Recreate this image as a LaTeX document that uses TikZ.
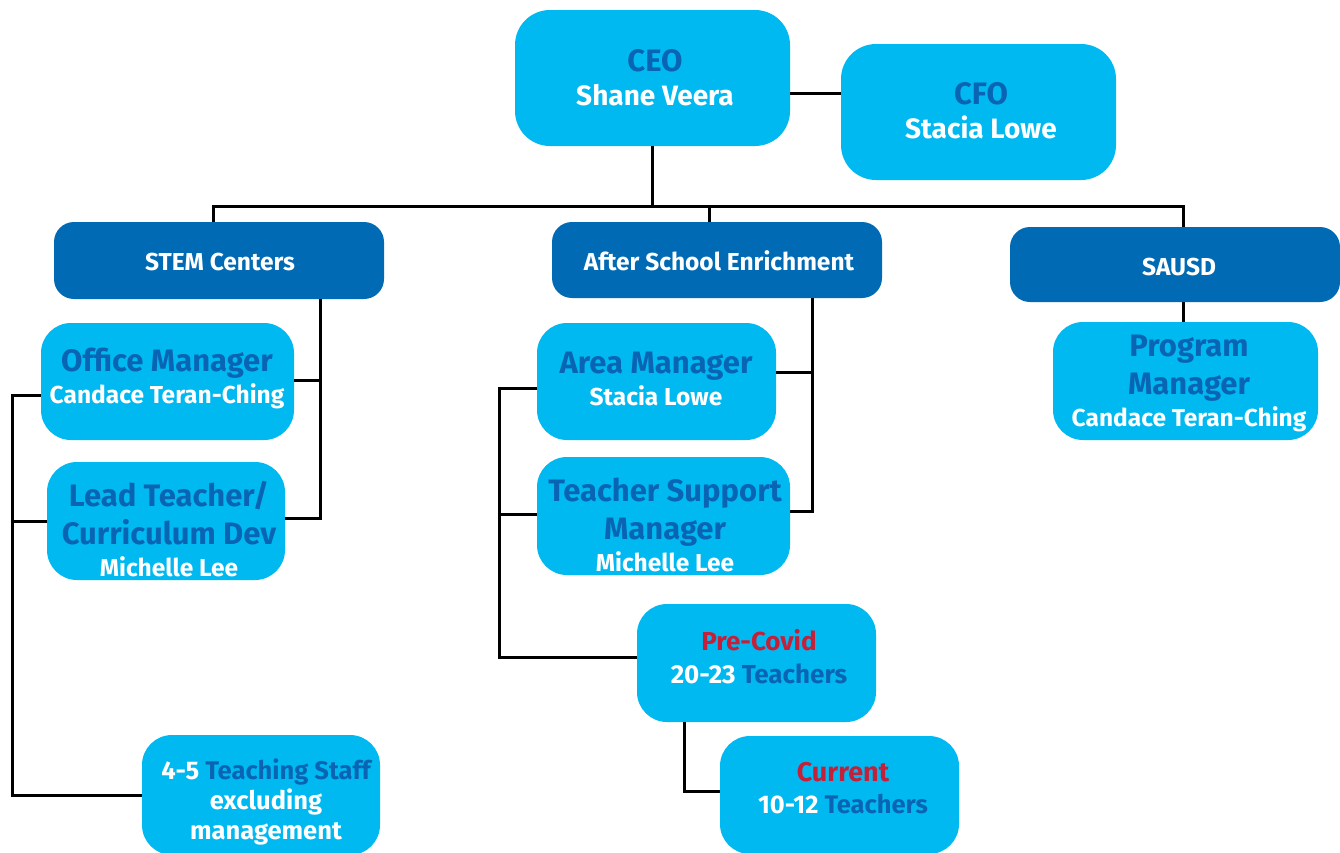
\documentclass[tikz,border=0pt]{standalone}
\usepackage{fontspec}
\setmainfont{Fira Sans}
\definecolor{cyanbox}{HTML}{00B9F1}
\definecolor{navy}{HTML}{006AB5}
\definecolor{titleblue}{HTML}{0A64B4}
\definecolor{covidred}{HTML}{C4203A}
\newcommand\ttl[1]{{\color{titleblue}\fontsize{31}{38}\selectfont #1}}
\newcommand\nme[1]{{\color{white}\fontsize{24.5}{30}\selectfont #1}}
\tikzset{
  lbox/.style={rectangle, rounded corners=30pt, fill=cyanbox, draw=none, inner sep=0pt},
  dbox/.style={rectangle, rounded corners=20pt, fill=navy, draw=none, inner sep=0pt},
  txt/.style={align=center, inner sep=0pt, font=\bfseries\fontsize{31}{38}\selectfont},
  brtxt/.style={txt, text=white, font=\bfseries\fontsize{24.5}{30}\selectfont},
  conn/.style={draw=black, line width=3pt},
}
\begin{document}
\begin{tikzpicture}[x=1pt,y=-1pt]
\useasboundingbox (0,0) rectangle (1340,852);
\clip (0,0) rectangle (1340,852);
% boxes
\node[lbox, rounded corners=35pt, minimum width=275pt, minimum height=136pt] (ceo) at (652.5,78) {};
\node[lbox, rounded corners=35pt, minimum width=275pt, minimum height=136pt] (cfo) at (978.5,112) {};
\node[dbox, minimum width=330pt, minimum height=77pt] (stem) at (219,260.5) {};
\node[dbox, minimum width=330pt, minimum height=76pt] (ase) at (717,260) {};
\node[dbox, minimum width=330pt, minimum height=75pt] (sausd) at (1175,264.5) {};
\node[lbox, minimum width=253pt, minimum height=117pt] (om) at (167.5,381.5) {};
\node[lbox, minimum width=238pt, minimum height=118pt] (lt) at (166,521) {};
\node[lbox, minimum width=238pt, minimum height=120pt] (staff) at (261,795) {};
\node[lbox, minimum width=239pt, minimum height=117pt] (area) at (656.5,381.5) {};
\node[lbox, minimum width=253pt, minimum height=118pt] (tsm) at (663.5,516) {};
\node[lbox, minimum width=239pt, minimum height=118pt] (pc) at (756.5,663) {};
\node[lbox, minimum width=239pt, minimum height=118pt] (cur) at (839.5,795) {};
\node[lbox, minimum width=265pt, minimum height=118pt] (pm) at (1185.5,381) {};
% texts
\node[txt] (ceot) at (655,77.5) {\ttl{CEO}\\[-4pt]\nme{\fontsize{28}{30}\selectfont Shane Veera}};
\node[txt] (cfot) at (981,110.5) {\ttl{CFO}\\[-4pt]\nme{\fontsize{28}{30}\selectfont Stacia Lowe}};
\node[brtxt] (stemt) at (220,262) {STEM Centers};
\node[brtxt] (aset) at (719,261) {After School Enrichment};
\node[brtxt] (sausdt) at (1179,267) {SAUSD};
\node[txt] (omt) at (167,378) {\ttl{Office Manager}\\[-6pt]\nme{Candace Teran-Ching}};
\node[txt] (ltt) at (169,529) {\ttl{Lead Teacher/}\\\ttl{Curriculum Dev}\\[-6pt]\nme{Michelle Lee}};
\node[txt, font=\bfseries\fontsize{25.5}{30}\selectfont] (stafft) at (266,802) {\textcolor{white}{4-5} \textcolor{titleblue}{Teaching Staff}\\\textcolor{white}{excluding}\\\textcolor{white}{management}};
\node[txt] (areat) at (656,379) {\ttl{Area Manager}\\[-6pt]\nme{Stacia Lowe}};
\node[txt] (tsmt) at (665,525) {\ttl{Teacher Support}\\\ttl{Manager}\\[-6pt]\nme{Michelle Lee}};
\node[txt, font=\bfseries\fontsize{26}{33}\selectfont] (pct) at (759,656.5) {\textcolor{covidred}{Pre-Covid}\\\textcolor{white}{20-23} \textcolor{titleblue}{Teachers}};
\node[txt, font=\bfseries\fontsize{25.5}{32}\selectfont] (curt) at (843,788) {\textcolor{covidred}{\fontsize{27}{32}\selectfont Current}\\\textcolor{white}{10-12} \textcolor{titleblue}{Teachers}};
\node[txt] (pmt) at (1189,383) {\ttl{Program}\\\ttl{Manager}\\[-6pt]\nme{Candace Teran-Ching}};
% connectors
\draw[conn] ([yshift=-15pt]ceo.east) coordinate (c1) -- (c1 -| cfo.west);
\draw[conn] (ceo.south) -- ++(0,60) coordinate (bus);
\draw[conn] ([xshift=-6pt]stem.north) |- (bus) -| ([xshift=8pt]sausd.north);
\draw[conn] ([xshift=-8pt]ase.north) -- ([xshift=-8pt]ase.north |- bus);
\coordinate (sb) at ([xshift=101pt]stem.south);
\draw[conn] (sb) |- ([yshift=3pt]lt.east);
\draw[conn] ([yshift=1.5pt]om.east) -- ([yshift=1.5pt]om.east -| sb);
\draw[conn] ([yshift=-13.5pt]om.west) -- ++(-28,0) coordinate (lb) |- (staff.west);
\draw[conn] (lt.west) -- (lt.west -| lb);
\coordinate (ab) at ([xshift=95pt]ase.south);
\draw[conn] (ab) |- ([yshift=5pt]tsm.east);
\draw[conn] ([yshift=9.5pt]area.east) -- ([yshift=9.5pt]area.east -| ab);
\draw[conn] ([yshift=-6.5pt]area.west) -- ++(-37,0) coordinate (alb) |- ([yshift=6pt]pc.west);
\draw[conn] ([yshift=2pt]tsm.west) -- ([yshift=2pt]tsm.west -| alb);
\draw[conn] ([xshift=-72.5pt]pc.south) |- ([yshift=4pt]cur.west);
\draw[conn] ([xshift=8pt]sausd.south) -- ([xshift=8pt]sausd.south |- pm.north);
\end{tikzpicture}
\end{document}
